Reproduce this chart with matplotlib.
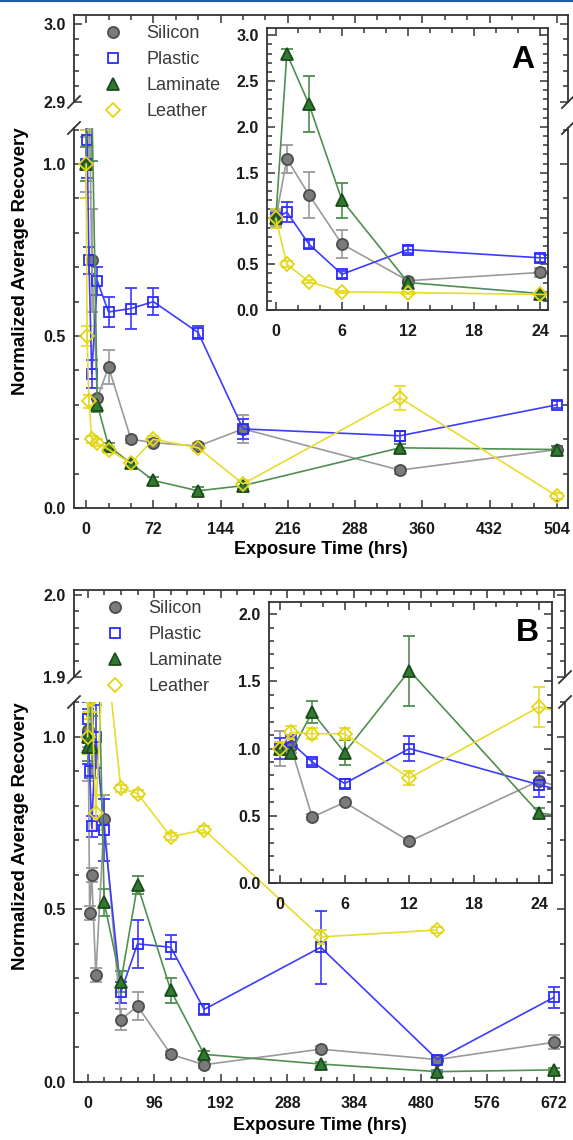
import numpy as np
import matplotlib
matplotlib.use("Agg")
import matplotlib.pyplot as plt
from matplotlib.ticker import MultipleLocator, FormatStrFormatter
from matplotlib.lines import Line2D

plt.rcParams['font.family'] = ['Liberation Sans', 'DejaVu Sans']
plt.rcParams['font.weight'] = 'bold'

# ---------------- data: panel A ----------------
hours_A = [0, 1, 3, 6, 12, 24, 48, 72, 120, 168, 336, 504]
silicon_A = [1.00, 1.65, 1.26, 0.72, 0.32, 0.41, 0.20, 0.19, 0.18, 0.23, 0.11, 0.17]
silicon_A_err = [0.08, 0.15, 0.25, 0.15, 0.03, 0.05, 0.01, 0.01, 0.01, 0.04, 0.01, 0.01]
plastic_A = [1.00, 1.07, 0.72, 0.39, 0.66, 0.57, 0.58, 0.60, 0.51, 0.23, 0.21, 0.30]
plastic_A_err = [0.10, 0.11, 0.04, 0.04, 0.04, 0.045, 0.06, 0.04, 0.02, 0.03, 0.015, 0.01]
laminate_A = [1.00, 2.80, 2.25, 1.20, 0.30, 0.18, 0.13, 0.08, 0.05, 0.065, 0.175, 0.17]
laminate_A_err = [0.05, 0.05, 0.31, 0.19, 0.02, 0.01, 0.01, 0.01, 0.01, 0.01, 0.01, 0.01]
leather_A = [1.00, 0.50, 0.31, 0.20, 0.19, 0.17, 0.13, 0.20, 0.175, 0.07, 0.32, 0.035]
leather_A_err = [0.10, 0.03, 0.02, 0.01, 0.01, 0.01, 0.01, 0.01, 0.01, 0.01, 0.035, 0.01]

# ---------------- data: panel B ----------------
hours_B = [0, 1, 3, 6, 12, 24, 48, 72, 120, 168, 336, 504, 672]
silicon_B = [1.00, 1.02, 0.49, 0.60, 0.31, 0.76, 0.18, 0.22, 0.08, 0.05, 0.095, 0.065, 0.115]
silicon_B_err = [0.13, 0.05, 0.02, 0.02, 0.02, 0.07, 0.03, 0.04, 0.01, 0.01, 0.01, 0.01, 0.02]
plastic_B = [1.00, 1.05, 0.90, 0.74, 1.00, 0.73, 0.26, 0.40, 0.39, 0.21, 0.39, 0.065, 0.245]
plastic_B_err = [0.08, 0.05, 0.02, 0.03, 0.09, 0.09, 0.03, 0.07, 0.035, 0.015, 0.105, 0.01, 0.03]
laminate_B = [1.00, 0.97, 1.27, 0.97, 1.58, 0.52, 0.29, 0.57, 0.265, 0.08, 0.052, 0.03, 0.035]
laminate_B_err = [0.05, 0.04, 0.08, 0.09, 0.26, 0.04, 0.03, 0.025, 0.036, 0.01, 0.005, 0.005, 0.005]
leather_B = [1.00, 1.12, 1.11, 1.11, 0.78, 1.31, 0.85, 0.835, 0.71, 0.73, 0.42, 0.44, np.nan]
leather_B_err = [0.05, 0.05, 0.04, 0.04, 0.05, 0.15, 0.01, 0.01, 0.01, 0.01, 0.02, 0.01, np.nan]

materials = ['Silicon', 'Plastic', 'Laminate', 'Leather']

STYLES = {
    'Silicon':  dict(marker='o', ms=8.0, mfc='#7b7b7b', mec='#4e4e4e', color='#9a9a9a'),
    'Plastic':  dict(marker='s', ms=7.5, mfc='none',    mec='#2a2aff', color='#3c3cff'),
    'Laminate': dict(marker='^', ms=8.5, mfc='#2f7a2f', mec='#1d4a1d', color='#4f8f4f'),
    'Leather':  dict(marker='D', ms=7.0, mfc='none',    mec='#e2d614', color='#e8dc2c'),
}

W, H = 573, 1140
fig = plt.figure(figsize=(W / 100, H / 100), dpi=100)


def rect(l, t, r, b):
    return [l / W, 1 - b / H, (r - l) / W, (b - t) / H]


def plot_series(ax, hours, series):
    for name in materials:
        vals, errs = series[name]
        st = STYLES[name]
        ax.errorbar(hours, vals, yerr=errs, marker=st['marker'], ms=st['ms'],
                    mfc=st['mfc'], mec=st['mec'], mew=1.3, color=st['color'],
                    lw=1.2, ecolor=st['color'], elinewidth=1.2, capsize=4,
                    capthick=1.2)


def style_axes(ax):
    for s in ax.spines.values():
        s.set_linewidth(1.3)
        s.set_color('#333333')
    ax.tick_params(which='both', direction='in', top=True, right=True,
                   width=1.1, color='#333333', labelsize=11.5,
                   labelcolor='#1a1a1a')
    ax.tick_params(which='major', length=6)
    ax.tick_params(which='minor', length=3.5)
    ax.tick_params(axis='y', pad=6)
    ax.tick_params(axis='x', pad=10)


def slash(x, y):
    d = 6
    fig.add_artist(Line2D([(x - d) / W, (x + d) / W],
                          [1 - (y + d) / H, 1 - (y - d) / H],
                          color='#333333', lw=1.3, transform=fig.transFigure))


def panel(hours, series, box, split, up_lim, low_lim, xlim, xmaj, inset_box,
          inset_xlim, inset_ylim, letter, letter_pos, legend_pos, xlabel_y):
    l, t, r, b = box
    ax_up = fig.add_axes(rect(l, t, r, split[0]))
    ax_lo = fig.add_axes(rect(l, split[1], r, b))
    for ax in (ax_up, ax_lo):
        plot_series(ax, hours, series)
        style_axes(ax)
        ax.set_xlim(*xlim)
        ax.xaxis.set_major_locator(MultipleLocator(xmaj))
        ax.xaxis.set_minor_locator(MultipleLocator(24))
        ax.yaxis.set_major_formatter(FormatStrFormatter('%.1f'))

    ax_up.set_ylim(*up_lim)
    ax_up.yaxis.set_major_locator(MultipleLocator(0.1))
    ax_up.yaxis.set_minor_locator(MultipleLocator(0.02))
    ax_up.spines['bottom'].set_visible(False)
    ax_up.tick_params(axis='x', which='both', bottom=False, labelbottom=False)

    ax_lo.set_ylim(*low_lim)
    ax_lo.yaxis.set_major_locator(MultipleLocator(0.5))
    ax_lo.yaxis.set_minor_locator(MultipleLocator(0.1))
    ax_lo.spines['top'].set_visible(False)
    ax_lo.tick_params(axis='x', which='both', top=False)

    for x in (l, r):
        slash(x, split[0])
        slash(x, split[1])

    # inset: first day of exposure
    ins = fig.add_axes(rect(*inset_box))
    ins.set_facecolor('white')
    plot_series(ins, hours, series)
    style_axes(ins)
    ins.set_xlim(*inset_xlim)
    ins.set_ylim(*inset_ylim)
    ins.xaxis.set_major_locator(MultipleLocator(6))
    ins.xaxis.set_minor_locator(MultipleLocator(2))
    ins.yaxis.set_major_locator(MultipleLocator(0.5))
    ins.yaxis.set_minor_locator(MultipleLocator(0.1))
    ins.yaxis.set_major_formatter(FormatStrFormatter('%.1f'))

    fig.text(letter_pos[0] / W, 1 - letter_pos[1] / H, letter, fontsize=23,
             fontweight='bold', ha='center', va='center')

    fig.text(21 / W, 1 - (t + b) / 2 / H, 'Normalized Average Recovery',
             rotation=90, fontsize=13.5, fontweight='bold', ha='center',
             va='center')
    fig.text((l + r) / 2 / W, 1 - xlabel_y / H, 'Exposure Time (hrs)',
             fontsize=13, fontweight='bold', ha='center', va='center')

    handles = [Line2D([], [], linestyle='none', marker=STYLES[m]['marker'],
                      ms=STYLES[m]['ms'], mfc=STYLES[m]['mfc'],
                      mec=STYLES[m]['mec'], mew=1.3) for m in materials]
    fig.legend(handles, materials, loc='upper left',
               bbox_to_anchor=(legend_pos[0] / W, 1 - legend_pos[1] / H),
               frameon=False, prop=dict(size=13, weight='normal'),
               labelcolor='#3a3a3a', handlelength=1.0, handletextpad=1.35,
               labelspacing=0.5, borderpad=0, borderaxespad=0, numpoints=1)


series_A = {
    'Silicon': (silicon_A, silicon_A_err),
    'Plastic': (plastic_A, plastic_A_err),
    'Laminate': (laminate_A, laminate_A_err),
    'Leather': (leather_A, leather_A_err),
}
series_B = {
    'Silicon': (silicon_B, silicon_B_err),
    'Plastic': (plastic_B, plastic_B_err),
    'Laminate': (laminate_B, laminate_B_err),
    'Leather': (leather_B, leather_B_err),
}

panel(hours_A, series_A, box=(74, 15, 568, 508), split=(102, 128),
      up_lim=(2.9, 3.011), low_lim=(0, 1.105), xlim=(-13, 516), xmaj=72,
      inset_box=(267, 28, 548, 310), inset_xlim=(-0.8, 24.7),
      inset_ylim=(0, 3.08), letter='A', letter_pos=(523, 60),
      legend_pos=(104, 25), xlabel_y=549)

panel(hours_B, series_B, box=(74, 590, 565, 1082), split=(677, 702),
      up_lim=(1.9, 2.006), low_lim=(0, 1.10), xlim=(-19.5, 688), xmaj=96,
      inset_box=(269, 602, 552, 883), inset_xlim=(-1.0, 25.2),
      inset_ylim=(0, 2.09), letter='B', letter_pos=(527, 633),
      legend_pos=(106, 600), xlabel_y=1126)

# journal page rule along the top edge
fig.add_artist(Line2D([0, 1], [1 - 1 / H, 1 - 1 / H], color='#1d5aa8', lw=1.5,
                      transform=fig.transFigure))

fig.savefig('out.png', dpi=100)
